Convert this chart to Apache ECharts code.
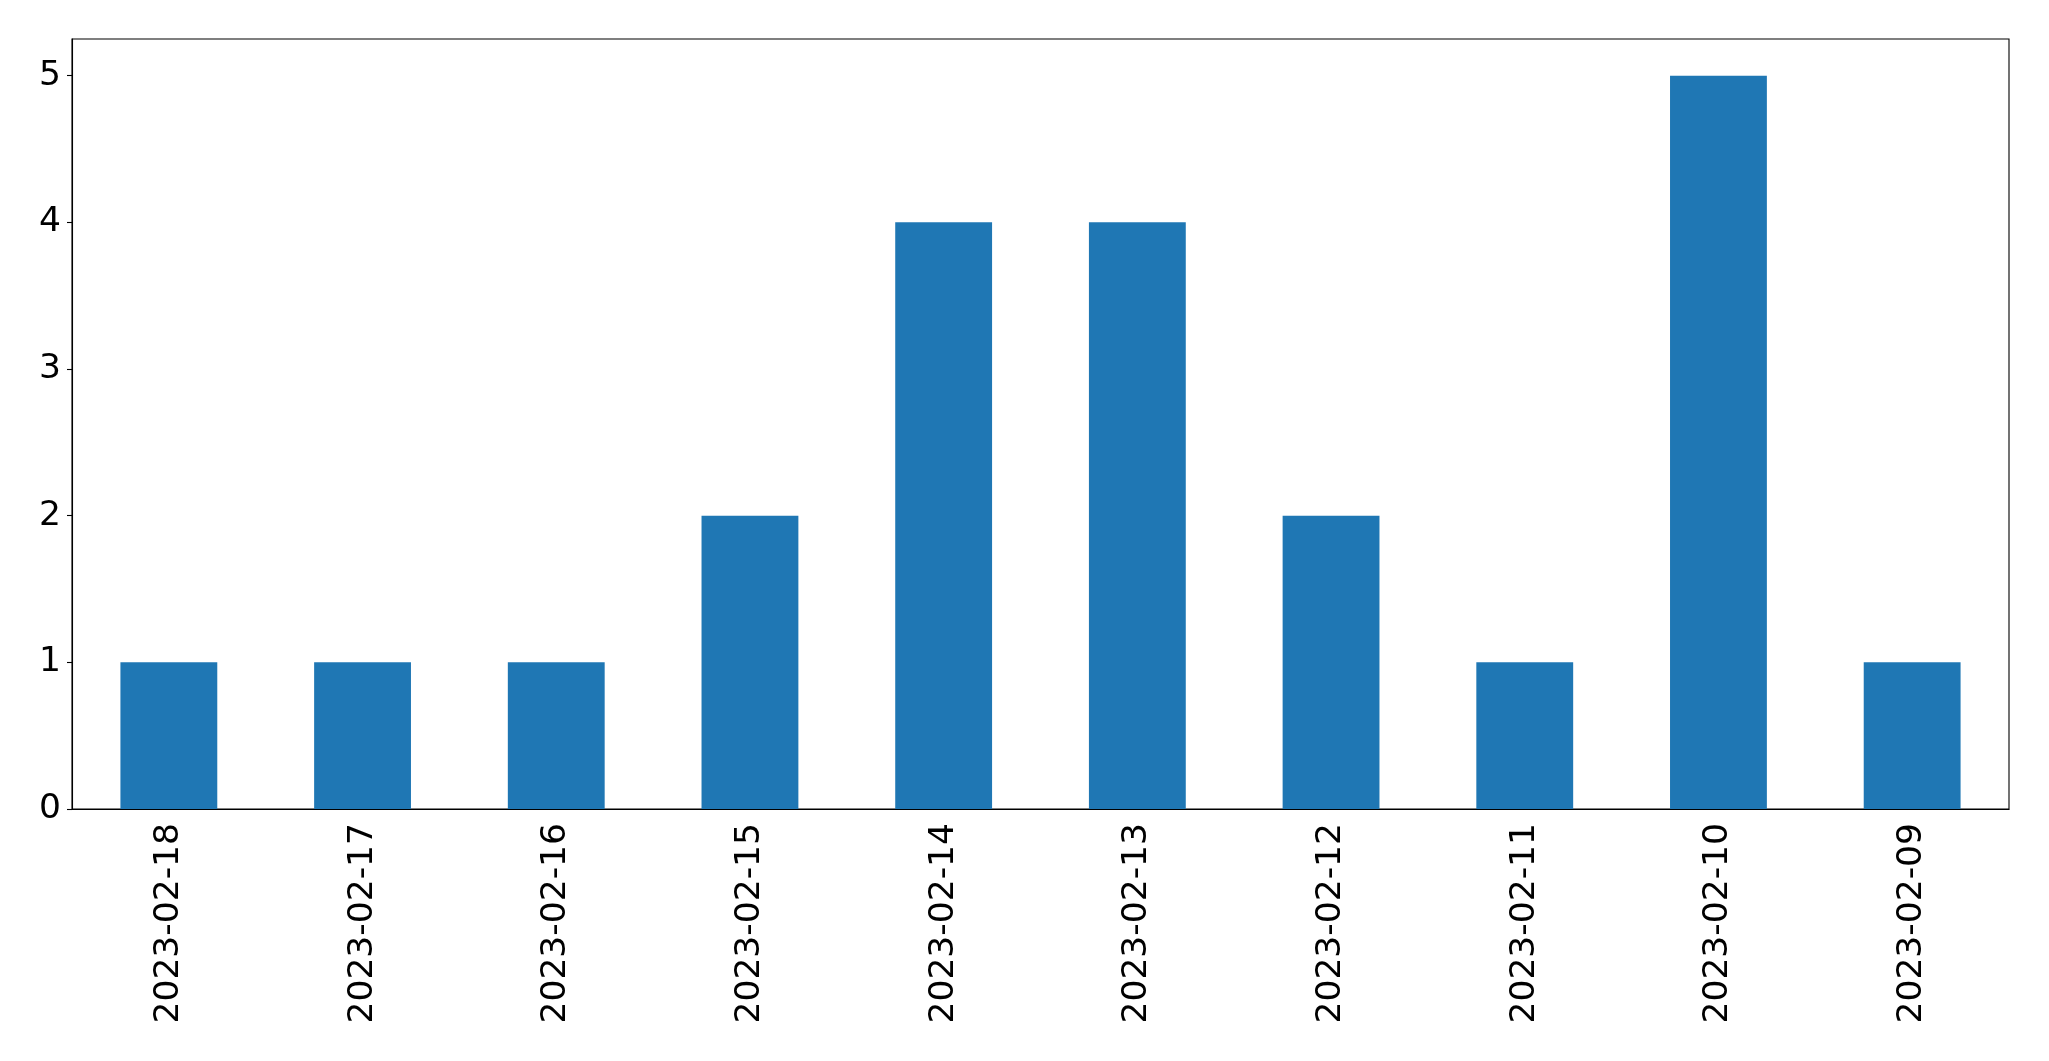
<!DOCTYPE html>
<html><head><meta charset="utf-8">
<script src="https://cdn.jsdelivr.net/npm/echarts@6/dist/echarts.min.js"></script>
<style>html,body{margin:0;padding:0;background:#fff}#c{width:2049px;height:1061px}</style>
</head><body><div id="c"></div>
<script>
const categories = ['2023-02-18','2023-02-17','2023-02-16','2023-02-15','2023-02-14','2023-02-13','2023-02-12','2023-02-11','2023-02-10','2023-02-09'];
const values = [1,1,1,2,4,4,2,1,5,1];
const yTicks = [0,1,2,3,4,5];

const chart = echarts.init(document.getElementById('c'), null, {renderer:'canvas'});
const font = 'DejaVu Sans';
chart.setOption({
  animation:false,
  backgroundColor:'#fff',
  grid:{left:72,right:40,top:39,bottom:252,show:true,borderColor:'#000',borderWidth:1.1,backgroundColor:'transparent'},
  xAxis:{type:'category',data:categories,
    axisLine:{lineStyle:{color:'#000',width:1.1}},
    axisTick:{alignWithLabel:true,length:5,lineStyle:{color:'#000',width:1.1}},
    axisLabel:{rotate:90,fontSize:34.5,fontFamily:font,color:'#000',margin:14,interval:0},
    splitLine:{show:false}},
  yAxis:{type:'value',min:0,max:5.25,interval:1,
    axisLine:{show:true,lineStyle:{color:'#000',width:1.1}},
    axisTick:{show:true,length:5,lineStyle:{color:'#000',width:1.1}},
    axisLabel:{fontSize:34.5,fontFamily:font,color:'#000',margin:11,showMaxLabel:false,
      formatter:v=>yTicks.includes(v)?String(v):''},
    splitLine:{show:false}},
  series:[{type:'bar',data:values,barWidth:'50%',itemStyle:{color:'#1f77b4'}}]
});
</script></body></html>
